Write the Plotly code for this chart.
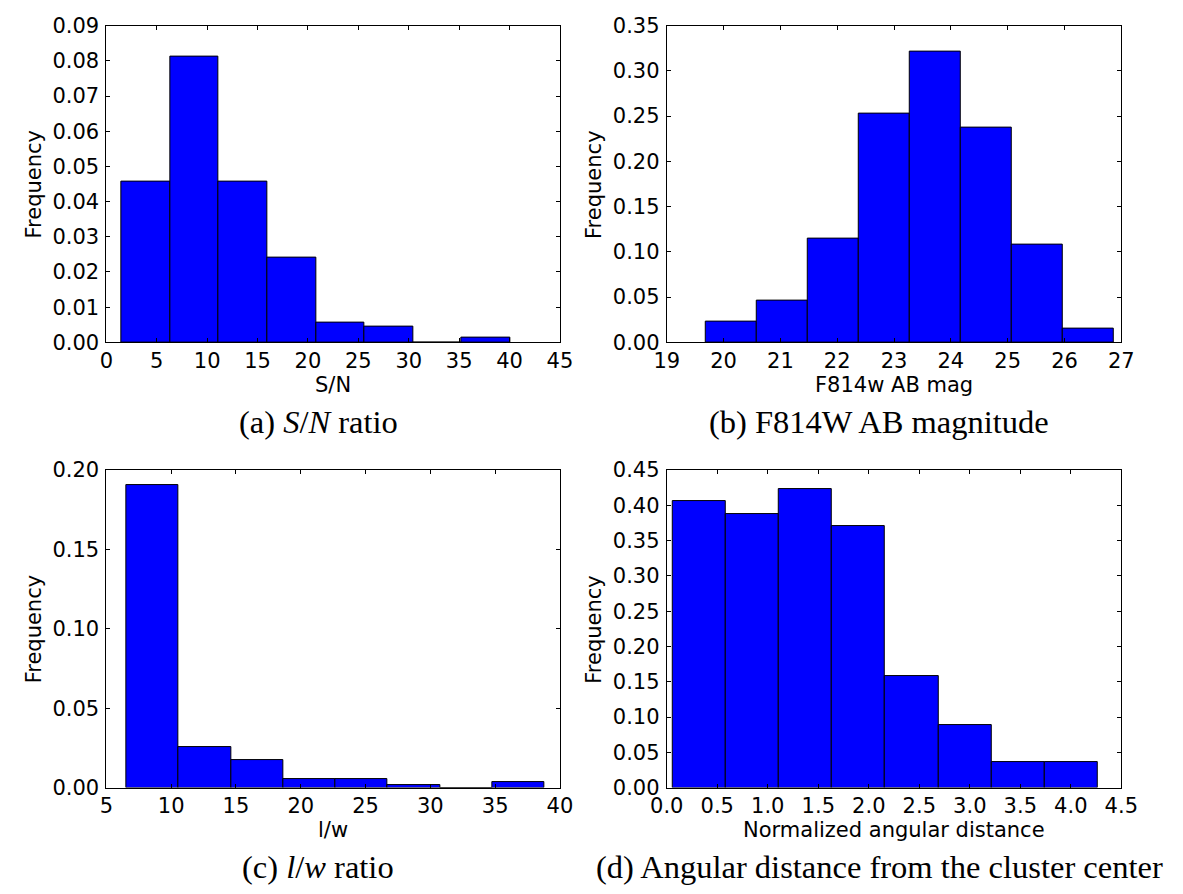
import plotly.graph_objects as go

# ---------------- data (normalised histograms) ----------------
sn_edges = [1.52, 6.34, 11.16, 15.98, 20.80, 25.62, 30.44, 35.26, 40.08]
sn_freq = [0.0456, 0.0812, 0.0456, 0.0242, 0.0057, 0.0044, 0.0, 0.0014]

mag_edges = [19.69, 20.59, 21.49, 22.38, 23.28, 24.18, 25.08, 25.97, 26.87]
mag_freq = [0.0232, 0.0465, 0.1148, 0.2527, 0.3218, 0.2377, 0.1076, 0.0154]

lw_edges = [6.55, 10.58, 14.62, 18.65, 22.68, 26.72, 30.75, 34.78, 38.81]
lw_freq = [0.1906, 0.0257, 0.0172, 0.0051, 0.0051, 0.0016, 0.0, 0.0037]

ang_edges = [0.055, 0.582, 1.109, 1.636, 2.163, 2.690, 3.217, 3.744, 4.271]
ang_freq = [0.4054, 0.3879, 0.4229, 0.3705, 0.1586, 0.0883, 0.0359, 0.0359]

x_titles = ["S/N", "F814w AB mag", "l/w", "Normalized angular distance"]
captions = ["(a) <i>S</i>/<i>N</i> ratio", "(b) F814W AB magnitude",
            "(c) <i>l</i>/<i>w</i> ratio", "(d) Angular distance from the cluster center"]
y_title = "Frequency"

x_ranges = [[0, 45], [19, 27], [5, 40], [0, 4.5]]
x_dticks = [5, 1, 5, 0.5]
x_formats = ["d", "d", "d", ".1f"]
y_ranges = [[0, 0.09], [0, 0.35], [0, 0.20], [0, 0.45]]
y_dticks = [0.01, 0.05, 0.05, 0.05]

# ---------------- layout geometry (pixels) ----------------
W, H = 1183, 894
col_x = [(92, 559), (669, 1137)]
row_y = [(14, 339.5), (470.7, 797)]
cap_x = [310, 888]

FONT = "DejaVu Sans"
FS = 21

fig = go.Figure()
datasets = [(sn_edges, sn_freq), (mag_edges, mag_freq), (lw_edges, lw_freq), (ang_edges, ang_freq)]

annotations = []
for i, (edges, freq) in enumerate(datasets):
    r, c = divmod(i, 2)
    centers = [(edges[k] + edges[k + 1]) / 2 for k in range(len(freq))]
    widths = [edges[k + 1] - edges[k] for k in range(len(freq))]
    xa = "x" if i == 0 else f"x{i+1}"
    ya = "y" if i == 0 else f"y{i+1}"
    fig.add_trace(go.Bar(
        x=centers, y=freq, width=widths, xaxis=xa, yaxis=ya,
        marker=dict(color="#0000ff", line=dict(color="black", width=1)),
        showlegend=False, hoverinfo="x+y",
    ))
    x0, x1 = col_x[c]
    ytop, ybot = row_y[r]
    xd = [x0 / W, x1 / W]
    yd = [1 - ybot / H, 1 - ytop / H]
    common = dict(showline=True, linecolor="black", linewidth=1, mirror="ticks",
                  ticks="inside", ticklen=4, tickwidth=1, tickcolor="black",
                  showgrid=False, zeroline=False,
                  tickfont=dict(family=FONT, size=FS, color="black"))
    fig.layout[("xaxis" if i == 0 else f"xaxis{i+1}")] = dict(
        domain=xd, anchor=ya, range=x_ranges[i], tick0=x_ranges[i][0], dtick=x_dticks[i],
        tickformat=x_formats[i], ticklabelstandoff=-1, **common)
    fig.layout[("yaxis" if i == 0 else f"yaxis{i+1}")] = dict(
        domain=yd, anchor=xa, range=y_ranges[i], tick0=0, dtick=y_dticks[i],
        tickformat=".2f", ticklabelstandoff=2, **common)
    # x title
    annotations.append(dict(text=x_titles[i], xref="paper", yref="paper",
                            x=(x0 + x1) / 2 / W, y=1 - (ybot + 44) / H,
                            xanchor="center", yanchor="middle", showarrow=False,
                            font=dict(family=FONT, size=FS, color="black")))
    # y title
    annotations.append(dict(text=y_title, xref="paper", yref="paper",
                            x=(x0 - 75) / W, y=1 - (ytop + ybot) / 2 / H,
                            xanchor="center", yanchor="middle", showarrow=False, textangle=-90,
                            font=dict(family=FONT, size=FS, color="black")))
    # caption
    annotations.append(dict(text=captions[i], xref="paper", yref="paper",
                            x=cap_x[c] / W, y=1 - (ybot + 82) / H,
                            xanchor="center", yanchor="middle", showarrow=False,
                            font=dict(family="Liberation Serif", size=32.5, color="black")))

fig.update_layout(width=W, height=H, margin=dict(l=0, r=0, t=0, b=0),
                  paper_bgcolor="white", plot_bgcolor="white", bargap=0,
                  annotations=annotations)

fig.write_html("out.html", config={"displayModeBar": False},
               post_script="document.body.style.margin='0';document.body.style.overflow='hidden';")
